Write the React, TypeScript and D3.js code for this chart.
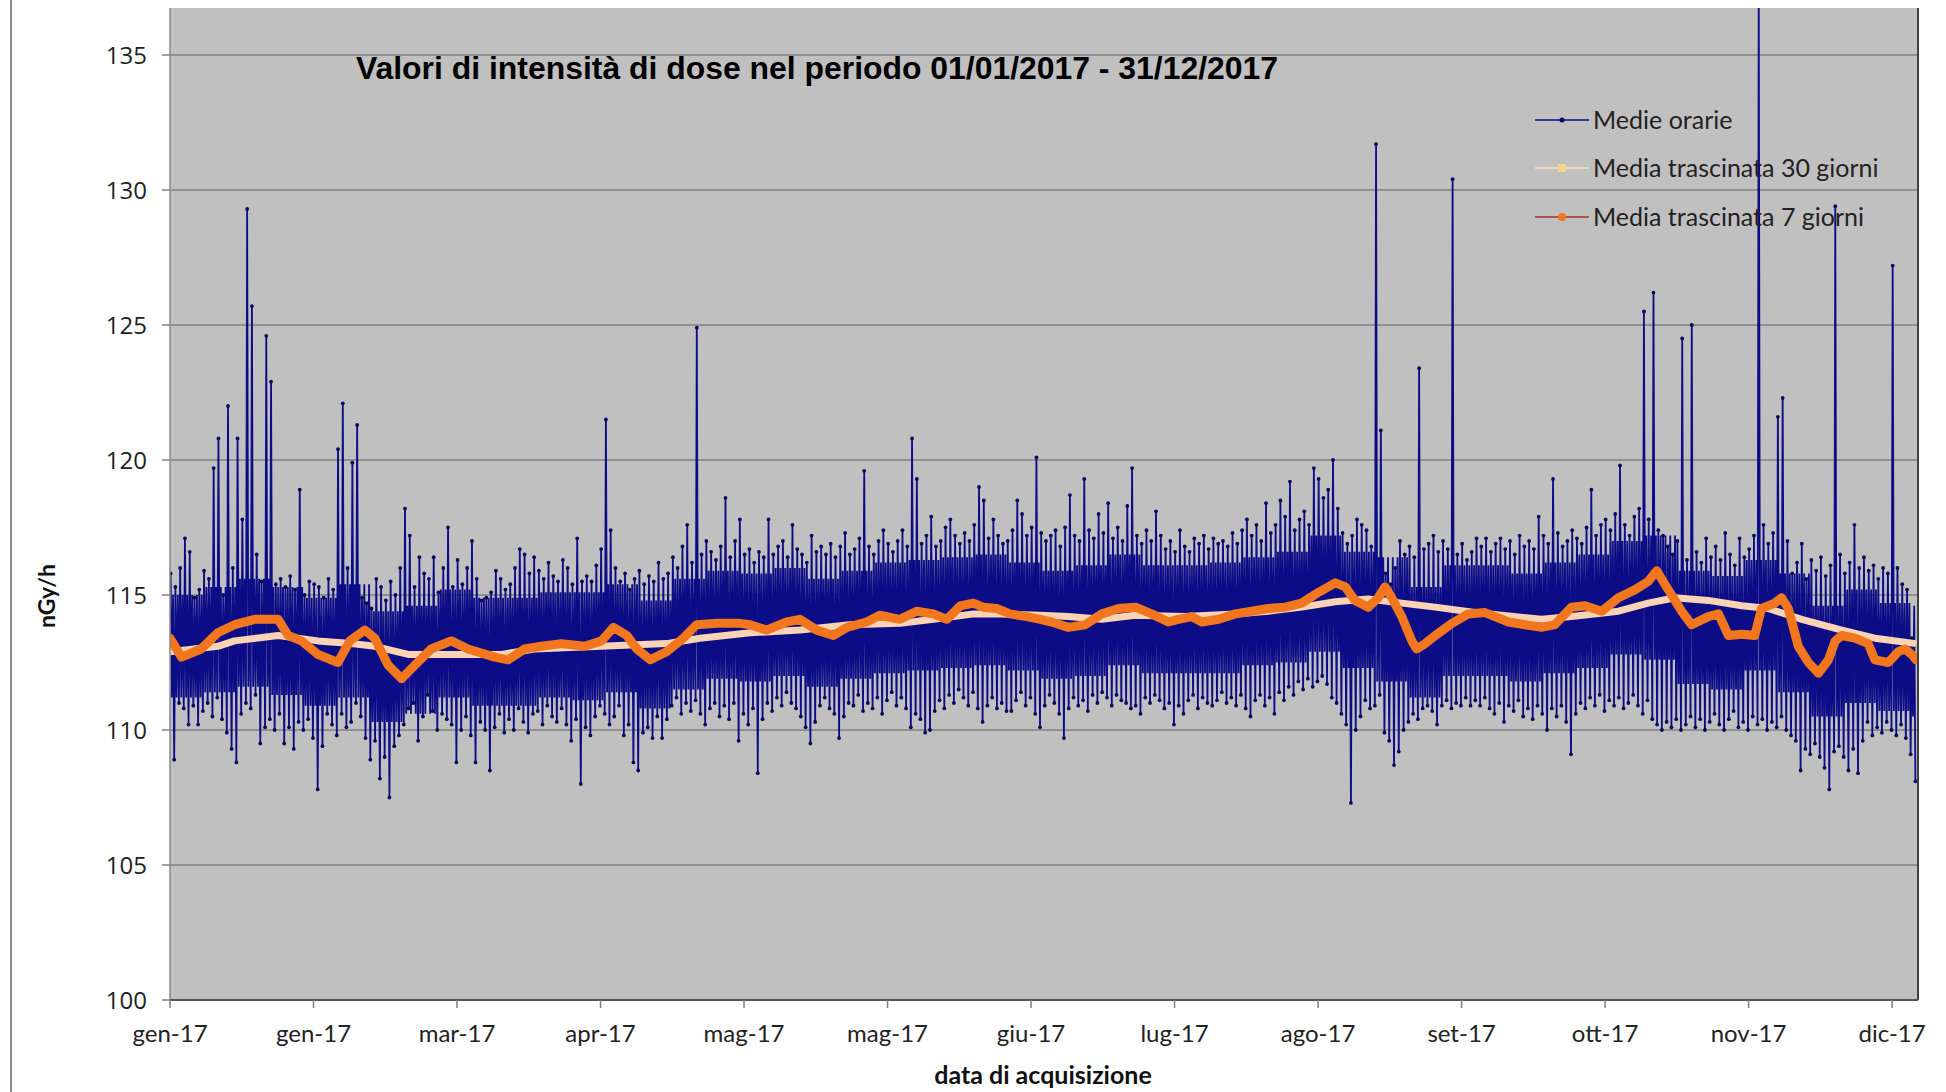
import React from "react";
import * as d3 from "d3";

// ---------- DATA ----------
const yTicks = [100, 105, 110, 115, 120, 125, 130, 135];
const xTickLabels = ["gen-17", "gen-17", "mar-17", "apr-17", "mag-17", "mag-17", "giu-17", "lug-17", "ago-17", "set-17", "ott-17", "nov-17", "dic-17"];
const xTickStepHours = 720;
const hoursInYear = 8760;

const title = "Valori di intensità di dose nel periodo 01/01/2017 - 31/12/2017";
const seriesNames = ["Medie orarie", "Media trascinata 30 giorni", "Media trascinata 7 giorni"];

// daily extremes of the hourly means (nGy/h)
const dayMax = [
  115.8,115.3,116.0,117.1,116.6,114.9,115.2,115.9,115.6,119.7,
  120.8,115.0,122.0,116.0,120.8,117.8,129.3,125.7,116.5,115.5,
  124.6,122.9,115.4,115.6,115.3,115.7,115.2,118.9,115.0,115.5,
  115.4,115.3,114.9,115.6,115.2,120.4,122.1,116.0,119.9,121.3,
  114.9,114.7,114.5,115.6,115.3,114.8,115.5,115.0,116.0,118.2,
  117.2,115.3,116.4,115.8,115.6,116.4,115.1,116.0,117.5,115.3,
  116.3,115.4,116.0,117.0,115.6,114.8,114.9,115.1,115.9,115.6,
  115.2,115.4,116.0,116.7,116.5,115.8,116.4,115.9,115.6,116.2,
  115.7,115.5,116.3,116.0,115.4,117.1,115.5,115.7,115.5,116.1,
  116.7,121.5,117.4,116.0,115.5,115.8,115.2,115.6,115.9,115.4,
  115.7,115.5,116.2,115.6,115.8,116.4,116.0,116.8,117.6,116.2,
  124.9,116.5,117.0,116.6,116.3,116.8,118.6,116.4,117.0,117.8,
  116.5,116.7,116.2,116.6,116.4,117.8,116.5,116.8,117.0,116.4,
  117.6,116.7,116.5,116.2,117.2,116.6,116.8,116.5,116.9,116.4,
  116.8,117.3,116.5,116.7,117.1,119.6,116.8,116.5,117.0,117.4,
  116.9,116.6,117.0,117.4,116.8,120.8,119.3,116.9,117.2,117.9,
  116.8,117.0,117.5,117.8,117.2,116.9,117.3,117.0,117.6,119.0,
  118.5,117.1,117.8,117.2,116.9,117.0,117.4,118.5,118.0,117.2,
  117.5,120.1,117.3,117.0,117.2,117.4,116.8,117.5,118.7,117.2,
  117.0,119.3,117.4,117.1,118.0,117.3,118.4,117.1,117.5,117.0,
  118.3,119.7,117.2,116.9,117.4,117.0,118.1,117.2,116.7,117.0,
  116.6,117.4,116.8,116.6,117.1,116.9,117.2,116.7,117.1,116.9,
  117.0,116.8,117.3,116.9,117.4,117.8,117.2,117.6,117.0,118.4,
  117.3,117.6,118.5,117.9,119.2,117.4,117.8,118.1,117.6,119.7,
  119.3,118.6,118.9,120.0,118.2,117.3,116.9,117.2,117.8,117.6,
  117.4,116.8,131.7,121.1,115.8,115.4,116.0,117.0,116.5,116.8,
  116.4,123.4,116.7,116.9,117.2,116.6,117.0,116.7,130.4,116.5,
  116.9,116.3,116.6,117.1,116.8,117.1,116.6,116.9,117.1,116.7,
  117.0,116.5,117.2,116.8,117.0,116.7,117.9,117.2,116.9,119.3,
  117.3,116.8,117.0,117.4,117.1,116.9,117.5,118.9,117.2,117.6,
  117.8,117.4,118.0,119.8,117.6,117.2,117.9,118.2,125.5,117.8,
  126.2,117.4,117.2,116.8,116.5,117.0,124.5,116.3,125.0,116.6,
  116.2,117.1,116.4,116.8,116.3,117.3,116.5,116.1,117.1,116.4,
  116.7,117.2,137.5,117.6,116.9,117.3,121.6,122.3,117.0,115.8,
  116.2,116.9,115.6,116.3,115.9,116.4,115.7,116.1,129.4,116.5,
  115.8,116.2,117.6,116.0,116.4,115.9,116.1,115.6,116.0,115.8,
  127.2,116.0,115.4,115.2,113.4,
];
const dayMin = [
  108.9,111.0,110.8,110.2,110.9,110.2,110.7,111.0,110.5,111.2,
  110.4,109.9,109.3,108.8,110.6,111.0,110.8,111.3,109.5,110.1,
  110.4,110.0,110.6,109.5,110.1,109.3,110.3,110.0,110.4,109.7,
  107.8,109.4,110.6,110.2,109.8,110.6,110.1,110.3,111.0,110.5,
  109.7,108.9,109.6,108.2,109.0,107.5,109.4,109.8,110.2,110.8,
  111.0,109.6,110.5,111.3,110.7,110.0,110.6,110.4,110.2,108.8,
  110.0,110.5,109.8,108.8,110.3,110.0,108.5,110.1,110.6,109.9,
  110.4,110.0,110.8,110.3,109.9,110.6,110.7,110.2,110.9,110.5,
  110.3,110.8,110.2,109.6,110.4,108.0,110.1,109.8,110.5,110.9,
  110.6,110.2,110.5,110.9,109.8,110.2,108.8,108.5,109.9,110.1,
  109.7,110.5,109.7,110.4,110.9,111.2,110.6,111.0,110.7,111.1,
  110.6,110.2,110.8,111.0,110.5,110.9,110.4,111.0,109.6,110.6,
  110.2,110.8,108.4,110.4,111.0,110.7,111.2,110.9,111.4,111.0,
  110.8,110.5,110.1,109.5,110.3,110.9,111.2,110.8,110.6,109.7,
  110.5,111.0,110.9,111.3,110.7,111.0,110.8,111.2,110.6,111.1,
  111.4,110.9,111.2,110.8,110.1,110.6,110.4,109.9,110.0,110.7,
  111.1,110.8,111.3,111.0,111.5,111.2,110.9,111.4,110.8,110.3,
  110.9,111.2,110.8,111.0,110.7,110.7,111.1,111.4,110.9,111.2,
  110.6,110.1,110.9,111.3,111.0,110.6,109.7,110.8,111.2,110.9,
  111.1,110.7,111.3,111.0,111.4,111.2,110.9,111.3,111.1,111.0,
  110.8,110.9,110.6,111.2,111.0,111.3,111.1,110.8,111.0,110.2,
  110.9,110.6,111.1,111.3,110.8,111.2,111.0,110.9,111.1,111.4,
  111.0,111.2,110.9,111.3,110.8,110.5,111.1,111.3,110.9,111.2,
  110.6,111.4,111.1,111.6,111.3,111.8,111.5,111.9,111.6,111.8,
  112.0,111.7,111.2,111.0,110.6,110.2,107.3,110.0,110.5,111.1,
  110.8,110.9,111.3,109.9,109.6,108.7,109.2,110.0,110.3,110.6,
  110.4,110.8,110.9,110.7,110.2,110.9,111.1,110.8,111.0,110.9,
  111.2,110.9,111.1,110.9,111.2,110.8,110.6,111.0,110.3,110.9,
  110.7,111.1,110.5,110.8,110.4,110.9,110.6,110.0,110.8,110.5,
  110.9,110.3,109.1,110.6,111.0,110.8,111.2,110.9,111.3,110.7,
  111.1,110.9,111.2,110.8,111.0,111.3,110.9,110.6,111.1,110.4,
  110.2,110.0,110.3,110.1,110.4,110.0,110.2,110.5,110.1,110.4,
  110.0,110.3,110.6,110.2,110.0,110.4,110.7,110.1,110.3,110.0,
  110.5,110.2,110.4,110.0,110.3,110.1,110.5,110.0,109.8,109.6,
  108.5,109.3,109.1,109.5,109.0,108.6,107.8,109.2,109.4,109.0,
  108.5,109.3,108.4,109.6,110.3,109.8,110.1,109.9,110.3,110.0,
  109.8,110.2,109.7,109.1,108.1,
];

// weekly band where most hourly means lie (dense core)
const weekCoreHi = [115.0,115.3,115.6,115.3,114.9,115.4,114.4,114.6,115.2,114.9,114.9,115.1,115.1,115.4,114.8,115.6,115.9,115.8,116.0,115.6,115.9,116.2,116.3,116.4,116.5,116.2,115.9,116.1,116.5,116.1,116.1,116.2,116.4,116.6,117.2,116.6,116.4,115.3,116.1,116.1,115.8,116.2,116.5,117.0,117.2,115.9,115.7,116.3,115.8,114.6,115.2,114.7,114.6];
const weekCoreLo = [111.2,111.4,111.6,111.3,110.9,111.2,110.3,110.6,111.2,110.9,110.9,111.2,111.1,111.4,110.8,111.5,111.9,111.8,112.0,111.6,111.9,112.1,112.2,112.3,112.4,112.2,111.9,112.0,112.4,112.1,112.1,112.1,112.4,112.5,112.9,112.3,111.8,111.2,112.0,112.0,111.8,112.1,112.3,112.8,112.6,111.7,111.5,112.2,111.4,110.5,111.0,110.7,110.5];

// 7-day moving average: day of year and value
const ma7Day = [0,2.4,6.5,10,13.5,17.7,22.6,24.7,27.5,30.9,35.1,37.6,40.7,42.8,45.6,48.4,51.2,54.6,58.8,62.3,67.9,70.7,74.1,77.6,81.8,86.7,90.2,92.7,95.5,97.6,100.4,103.8,107.3,110.1,114.3,119.2,121.3,124.7,128.9,131.7,135.2,138.7,141.5,145.6,148.4,152.6,156.1,159.6,162.4,165.2,167.9,170,172.8,175.6,179.1,181.9,184.3,187.8,191.3,194.8,198.3,201.8,205.2,208.7,210.8,213.6,215.7,219.2,222.7,226.1,229.6,233.1,236.6,240.1,243.6,245.7,247.7,250.5,252.6,254,255.4,257.5,259.6,260.6,262.4,264.5,268,271.4,274.9,279.8,283.3,286.7,289.5,293,295.8,299.3,302.8,306.3,309,310.8,312.5,316,318.1,321.6,323.7,325.8,328.6,331.3,332.7,335.5,336.9,338.3,340.4,342.5,344.6,346.7,348.1,349.5,352.2,355,356.4,359.2,361.3,362.7,364.1,365];
const ma7Val = [113.4,112.7,113.0,113.6,113.9,114.1,114.1,113.5,113.3,112.8,112.5,113.3,113.7,113.4,112.4,111.9,112.4,113.0,113.3,113.0,112.7,112.6,113.0,113.1,113.2,113.1,113.3,113.8,113.5,113.0,112.6,112.9,113.4,113.9,113.95,113.95,113.9,113.7,114.0,114.1,113.7,113.5,113.8,114.0,114.25,114.1,114.4,114.3,114.1,114.6,114.7,114.55,114.5,114.3,114.2,114.1,114.0,113.8,113.9,114.3,114.5,114.55,114.3,114.0,114.1,114.2,114.0,114.1,114.3,114.4,114.5,114.55,114.7,115.1,115.45,115.3,114.8,114.55,114.9,115.3,114.9,114.2,113.3,113.0,113.2,113.5,113.95,114.3,114.35,114.0,113.9,113.8,113.9,114.55,114.6,114.4,114.9,115.2,115.5,115.9,115.4,114.4,113.9,114.2,114.3,113.5,113.55,113.5,114.5,114.7,114.9,114.5,113.1,112.5,112.1,112.6,113.3,113.5,113.4,113.2,112.6,112.5,112.9,113.0,112.8,112.6];

// 30-day moving average: day of year and value
const ma30Day = [0,10,13.5,22.6,30.9,37.9,42.8,49.8,55.3,69.3,76.2,90,103.8,110.8,121.3,131.7,142.1,152.6,159.6,168,173.5,181.9,187.8,194.8,201.8,212.2,222.7,229.6,236.6,243.6,250.5,257.5,264.5,272.8,286.7,293,302.8,309,314.6,321.6,328.6,334.1,341.1,349.5,356.4,365];
const ma30Val = [112.9,113.1,113.3,113.5,113.3,113.2,113.1,112.8,112.8,112.8,113.0,113.1,113.2,113.4,113.6,113.7,113.9,113.95,114.1,114.3,114.3,114.25,114.2,114.1,114.25,114.2,114.3,114.4,114.55,114.75,114.85,114.7,114.55,114.35,114.1,114.2,114.4,114.7,114.9,114.8,114.6,114.5,114.1,113.7,113.4,113.2];

// ---------- STYLE ----------
const W = 1946;
const H = 1092;
const P = { left: 170, right: 1916, top: 8, bottom: 1000 };
const NAVY = "#0c0c86";
const PEACH = "#f9d3b3";
const ORANGE = "#f2761e";

export default function App() {
  const x = d3.scaleLinear().domain([0, hoursInYear]).range([P.left, P.right]);
  const y = d3.scaleLinear().domain([100, 135]).range([P.bottom, 55]);

  type Pt = { h: number; v: number };
  const hourly: Pt[] = [];
  const extremes: Pt[] = [];
  dayMax.forEach((mx, d) => {
    const w = Math.floor(d / 7);
    const a = { h: d * 24 + 3, v: mx };
    const b = { h: d * 24 + 9, v: weekCoreLo[w] };
    const c = { h: d * 24 + 15, v: weekCoreHi[w] };
    const e = { h: d * 24 + 21, v: dayMin[d] };
    hourly.push(a, b, c, e);
    extremes.push(a, e);
  });
  const hourlyLine = d3.line<Pt>().x((p) => x(p.h)).y((p) => y(p.v));
  const maLine = d3.line<[number, number]>().x((p) => x(p[0] * 24)).y((p) => y(p[1]));
  const ma7 = ma7Day.map((d, i) => [d, ma7Val[i]] as [number, number]);
  const ma30 = ma30Day.map((d, i) => [d, ma30Val[i]] as [number, number]);

  const xTicks = xTickLabels.map((lab, i) => ({ lab, h: i * xTickStepHours }));
  const lx = 1535;
  const legendRows = [120, 168, 217];

  return (
    <svg width={W} height={H} style={{ position: "absolute", left: 0, top: 0, background: "#fff" }}>
      <defs>
        <clipPath id="plotClip">
          <rect x={P.left} y={P.top} width={P.right - P.left + 2} height={P.bottom - P.top} />
        </clipPath>
      </defs>
      <rect x={0} y={0} width={W} height={H} fill="#fff" />
      <line x1={11} x2={11} y1={0} y2={H} stroke="#8c8c8c" strokeWidth={2} />
      <rect x={P.left} y={P.top} width={P.right - P.left + 2} height={P.bottom - P.top} fill="#c0c0c0" />
      {yTicks.filter((t) => t > 100).map((t) => (
        <line key={t} x1={P.left} x2={P.right + 2} y1={y(t)} y2={y(t)} stroke="#808080" strokeWidth={1.5} />
      ))}
      {yTicks.map((t) => (
        <g key={"yt" + t}>
          <line x1={162} x2={P.left} y1={y(t)} y2={y(t)} stroke="#808080" strokeWidth={1.5} />
          <text x={147} y={y(t)} dy="0.36em" textAnchor="end" fontFamily="Open Sans" fontSize={24} fill="#222">{t}</text>
        </g>
      ))}
      <g clipPath="url(#plotClip)">
        <path d={hourlyLine(hourly) || ""} fill="none" stroke={NAVY} strokeWidth={1.8} />
        {extremes.map((p, i) => (
          <circle key={i} cx={x(p.h)} cy={y(p.v)} r={1.9} fill="#08085a" />
        ))}
        <path d={maLine(ma30) || ""} fill="none" stroke={PEACH} strokeWidth={7} strokeLinejoin="round" />
        <path d={maLine(ma7) || ""} fill="none" stroke={ORANGE} strokeWidth={9} strokeLinejoin="round" strokeLinecap="round" />
      </g>
      <line x1={P.left} x2={P.left} y1={P.top} y2={P.bottom} stroke="#8a8a8a" strokeWidth={1.5} />
      <line x1={P.right + 2} x2={P.right + 2} y1={P.top} y2={P.bottom} stroke="#404040" strokeWidth={2} />
      <line x1={P.left} x2={P.right + 2} y1={P.bottom} y2={P.bottom} stroke="#555" strokeWidth={2} />
      {xTicks.map((t) => (
        <g key={"xt" + t.h}>
          <line x1={x(t.h)} x2={x(t.h)} y1={P.bottom} y2={P.bottom + 8} stroke="#808080" strokeWidth={1.5} />
          <text x={x(t.h)} y={1034} dy="0.35em" textAnchor="middle" fontFamily="Lato" fontSize={24} fill="#222">{t.lab}</text>
        </g>
      ))}
      <text x={356} y={68} dy="0.36em" fontFamily="Liberation Sans" fontWeight="bold" fontSize={31} textLength={922} lengthAdjust="spacingAndGlyphs" fill="#000">{title}</text>
      <text transform={`translate(47,596) rotate(-90)`} textAnchor="middle" dy="0.35em" fontFamily="Lato" fontWeight="bold" fontSize={23} fill="#111">nGy/h</text>
      <text x={1043} y={1075} textAnchor="middle" dy="0.35em" fontFamily="Lato" fontWeight="bold" fontSize={25} fill="#111">data di acquisizione</text>
      {/* legend */}
      <line x1={lx} x2={lx + 54} y1={legendRows[0]} y2={legendRows[0]} stroke={NAVY} strokeWidth={1.5} />
      <circle cx={lx + 27} cy={legendRows[0]} r={2.5} fill="#0a0a60" />
      <line x1={lx} x2={lx + 54} y1={legendRows[1]} y2={legendRows[1]} stroke="#f7e6bd" strokeWidth={1.5} />
      <rect x={lx + 23} y={legendRows[1] - 4} width={8} height={8} fill="#f6d38a" />
      <line x1={lx} x2={lx + 54} y1={legendRows[2]} y2={legendRows[2]} stroke="#a83222" strokeWidth={1.5} />
      <circle cx={lx + 27} cy={legendRows[2]} r={4} fill={ORANGE} />
      {seriesNames.map((s, i) => (
        <text key={s} x={lx + 58} y={legendRows[i]} dy="0.35em" fontFamily="Lato" fontSize={25} fill="#222">{s}</text>
      ))}
    </svg>
  );
}
